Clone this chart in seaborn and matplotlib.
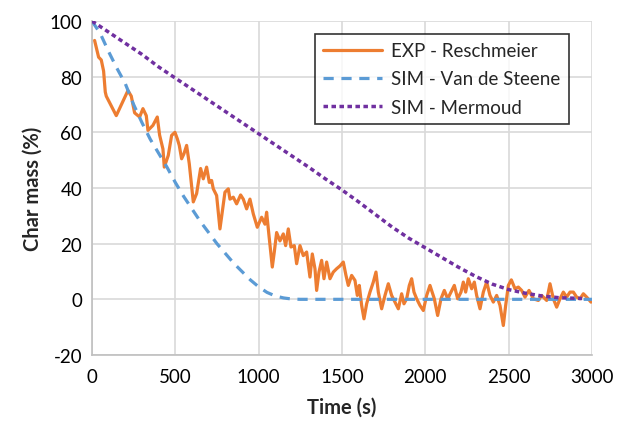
import numpy as np
import pandas as pd
import matplotlib
matplotlib.use("Agg")
import matplotlib.pyplot as plt
import seaborn as sns

# EXP - Reschmeier (orange)
exp_t = [16, 26, 40, 56, 70, 80, 86, 146, 216, 236, 256, 286, 306, 326, 336, 366, 392, 406, 426, 434,
         458, 478, 498, 512, 524, 538, 552, 568, 584, 608, 628, 652, 668, 688, 704, 718, 728, 748, 768, 784,
         798, 818, 828, 848, 868, 892, 908, 928, 948, 968, 992, 1018, 1038, 1048, 1062, 1082, 1094, 1108, 1128, 1148,
         1162, 1178, 1194, 1214, 1228, 1248, 1268, 1288, 1308, 1322, 1338, 1348, 1362, 1378, 1392, 1408, 1428, 1448, 1468, 1488,
         1508, 1524, 1538, 1558, 1578, 1592, 1604, 1618, 1632, 1648, 1668, 1688, 1704, 1718, 1738, 1758, 1778, 1798, 1818, 1838,
         1858, 1872, 1888, 1904, 1918, 1932, 1948, 1968, 1988, 2008, 2028, 2054, 2074, 2094, 2114, 2134, 2154, 2174, 2194, 2214,
         2228, 2242, 2258, 2278, 2294, 2308, 2328, 2348, 2368, 2388, 2408, 2428, 2448, 2468, 2482, 2498, 2516, 2538, 2558, 2578,
         2598, 2622, 2648, 2678, 2698, 2728, 2748, 2768, 2788, 2808, 2828, 2848, 2868, 2888, 2908, 2928, 2948, 2968, 2994]
exp_v = [93, 90.5, 87, 86, 82, 74.5, 73, 66, 75, 73, 67, 65.5, 68.5, 66, 60.7, 62.5, 65.5, 59, 54, 47.5,
         51.7, 58.9, 60, 57.7, 55.3, 50.5, 52.3, 55.3, 48.7, 35, 38, 47, 43.3, 47.5, 42, 42.7, 39.7, 37.3, 25.3, 32.5,
         38.5, 39.7, 36, 36.7, 34.3, 37.5, 36, 32.5, 36, 30.7, 25.9, 29.5, 27, 31.3, 23, 11.6, 17, 24, 21, 23.5,
         19.3, 25.3, 18.8, 19.3, 12.8, 19.3, 15.7, 17, 8, 16.3, 11, 3.2, 9.8, 14, 7.4, 13.4, 7.4, 9.8, 11, 12,
         13.4, 8.6, 5, 8.6, 6.8, 1.4, 5, -2.2, -7, -1.6, 2.6, 6.2, 9.8, 2.6, -3.4, 1.4, 5.6, 1.4, -1, -3.4,
         2, -1.6, 0.2, 5, 7.4, 2.6, 0.2, -2.2, -4, 1.4, 5, 0.2, -5.8, 0.2, 3.2, 0.2, 2.6, 5, 0.2, 2.6,
         6.2, 2.6, 7.4, 3.8, 6.2, 1.4, -3.4, 2.6, 6.2, 1.4, -1, 1.4, -2.2, -9.4, -2.2, 5, 7, 3.8, 4.4, 3.2,
         0.8, 3.2, 0.2, -0.4, 1.4, -0.4, 5.6, 0.2, -2.8, 0.2, 2.6, 0.8, 2.6, 2.6, 0.8, 0.2, 2, 0.8, -1]

# SIM - Van de Steene (blue dashed)
vds_t = [0, 50, 100, 150, 200, 250, 300, 350, 400, 450, 500, 550, 600, 650, 700, 750, 800, 850, 900, 950,
         1000, 1050, 1100, 1150, 1200, 1250, 1500, 2000, 2500, 3000]
vds_v = [100, 95.5, 89, 83, 77.5, 70, 63.5, 57.5, 52.5, 47.5, 42, 37, 32.5, 28, 24, 20, 16.5, 13, 10, 7,
         4.5, 2.5, 1.2, 0.5, 0.1, 0, 0, 0, 0, 0]

# SIM - Mermoud (purple dotted)
mer_t = [0, 100, 200, 300, 400, 500, 600, 700, 800, 900, 1000, 1100, 1200, 1300, 1400, 1500, 1600, 1700, 1800, 1900,
         2000, 2100, 2200, 2300, 2400, 2500, 2600, 2700, 2800, 2940]
mer_v = [100, 96, 92, 88, 83.5, 79.5, 75.5, 71.5, 67.5, 63.5, 59.5, 55.5, 51.5, 47.5, 43.3, 39.3, 35, 30.5, 26, 22,
         18.5, 15, 11.5, 8.3, 5.5, 3.5, 2.2, 1.2, 0.6, 0.3]

x_ticks = [0, 500, 1000, 1500, 2000, 2500, 3000]
y_ticks = [-20, 0, 20, 40, 60, 80, 100]

sns.set_theme(style="white")
plt.rcParams['font.family'] = ['Lato', 'DejaVu Sans']
plt.rcParams['axes.unicode_minus'] = False

fig = plt.figure(figsize=(6.17, 4.31), dpi=100)
ax = fig.add_axes([0.149, 0.174, 0.8105, 0.775])

df_exp = pd.DataFrame({"t": exp_t, "v": exp_v})
df_vds = pd.DataFrame({"t": vds_t, "v": vds_v})
df_mer = pd.DataFrame({"t": mer_t, "v": mer_v})

sns.lineplot(data=df_exp, x="t", y="v", ax=ax, color="#ED7D31", linewidth=2.3,
             label="EXP - Reschmeier", zorder=3)
sns.lineplot(data=df_vds, x="t", y="v", ax=ax, color="#5B9BD5", linewidth=2.3,
             label="SIM - Van de Steene", zorder=4, dashes=False)
sns.lineplot(data=df_mer, x="t", y="v", ax=ax, color="#7030A0", linewidth=2.5,
             label="SIM - Mermoud", zorder=5, dashes=False)
ax.lines[1].set_dashes([3.2, 2.4])
ax.lines[2].set_dashes([1.3, 1.0])

ax.set_xlim(0, 3000)
ax.set_ylim(-20, 100)
ax.set_xticks(x_ticks)
ax.set_yticks(y_ticks)
ax.set_yticklabels([str(v) for v in y_ticks])
ax.tick_params(axis='both', labelsize=13.5, length=0, colors="#000000")
ax.tick_params(axis='x', pad=9)
ax.tick_params(axis='y', pad=7)
ax.grid(True, color="#d9d9d9", linewidth=1.2)
ax.set_axisbelow(True)
for s in ["top", "right"]:
    ax.spines[s].set_visible(False)
for s in ["left", "bottom"]:
    ax.spines[s].set_color("#bfbfbf")
    ax.spines[s].set_linewidth(1.2)

ax.set_xlabel("Time (s)", fontsize=14.5, fontweight="bold", labelpad=9)
ax.set_ylabel("Char mass (%)", fontsize=14.5, fontweight="bold", labelpad=5)

leg = ax.legend(loc="upper left", bbox_to_anchor=(0.446, 0.962), fontsize=13.5,
                frameon=True, fancybox=False, edgecolor="black", handlelength=3.1,
                borderpad=0.45, labelspacing=0.6, handletextpad=0.5, borderaxespad=0.0)
leg.get_frame().set_linewidth(1.2)

fig.savefig("out.png", dpi=100)
